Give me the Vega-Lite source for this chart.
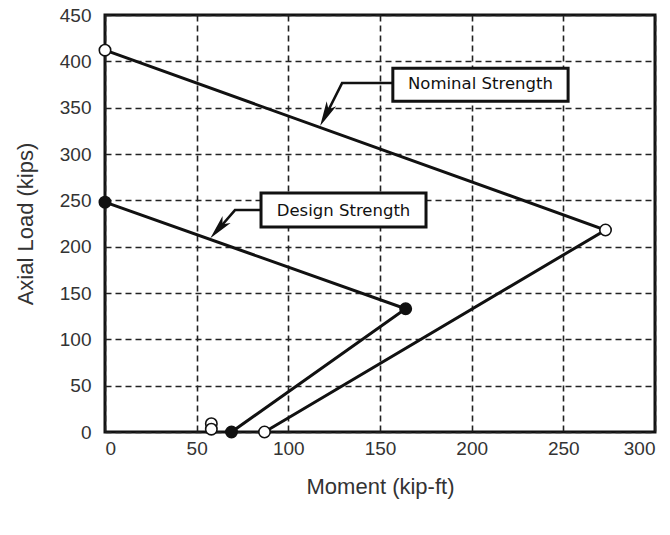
{
  "$schema": "https://vega.github.io/schema/vega-lite/v6.json",
  "width": 550,
  "height": 417,
  "autosize": "none",
  "padding": {"left": 105, "top": 15, "right": 15, "bottom": 103},
  "background": "white",
  "config": {
    "view": {"stroke": "#111", "strokeWidth": 3},
    "axis": {
      "grid": true,
      "gridColor": "#222",
      "gridDash": [6, 4],
      "gridWidth": 1.6,
      "gridOpacity": 1,
      "domain": false,
      "ticks": false,
      "labelFont": "Liberation Sans",
      "labelFontSize": 19,
      "labelColor": "#333",
      "titleFont": "Liberation Sans",
      "titleFontSize": 22,
      "titleFontWeight": "normal",
      "titleColor": "#333"
    }
  },
  "datasets": {
    "curves": [
      {"series": "Nominal", "o": 1, "m": 0, "p": 412},
      {"series": "Nominal", "o": 2, "m": 273, "p": 218},
      {"series": "Nominal", "o": 3, "m": 87, "p": 0},
      {"series": "Design", "o": 1, "m": 0, "p": 248},
      {"series": "Design", "o": 2, "m": 164, "p": 133},
      {"series": "Design", "o": 3, "m": 69, "p": 0}
    ],
    "pts": [
      {"series": "Nominal", "m": 0, "p": 412},
      {"series": "Nominal", "m": 273, "p": 218},
      {"series": "Nominal", "m": 87, "p": 0},
      {"series": "Nominal", "m": 58, "p": 9},
      {"series": "Nominal", "m": 58, "p": 3},
      {"series": "Design", "m": 0, "p": 248},
      {"series": "Design", "m": 164, "p": 133},
      {"series": "Design", "m": 69, "p": 0}
    ],
    "leaders": [
      {"g": "Nominal", "o": 1, "m": 157, "p": 376.5},
      {"g": "Nominal", "o": 2, "m": 129.3, "p": 376.5},
      {"g": "Nominal", "o": 3, "m": 120.5, "p": 342},
      {"g": "Design", "o": 1, "m": 85.1, "p": 239.5},
      {"g": "Design", "o": 2, "m": 70.9, "p": 239.5},
      {"g": "Design", "o": 3, "m": 62, "p": 219}
    ],
    "heads": [
      {"g": "Nominal", "m": 120.5, "p": 342.6, "ang": 207},
      {"g": "Design", "m": 62.0, "p": 219.4, "ang": 221}
    ],
    "labels": [
      {"label": "Nominal Strength", "m1": 157, "m2": 252.6, "p1": 357, "p2": 392.6, "mc": 204.8, "pc": 375.5},
      {"label": "Design Strength", "m1": 85.1, "m2": 175.1, "p1": 221.1, "p2": 257.8, "mc": 130.1, "pc": 239}
    ]
  },
  "encoding": {
    "x": {
      "field": "m",
      "type": "quantitative",
      "scale": {"domain": [0, 300], "nice": false},
      "axis": {"values": [0, 50, 100, 150, 200, 250, 300], "title": "Moment (kip-ft)", "labelPadding": 7, "titlePadding": 18}
    },
    "y": {
      "field": "p",
      "type": "quantitative",
      "scale": {"domain": [0, 450], "nice": false},
      "axis": {"values": [0, 50, 100, 150, 200, 250, 300, 350, 400, 450], "title": "Axial Load (kips)", "labelPadding": 14, "titlePadding": 22}
    }
  },
  "layer": [
    {
      "data": {"name": "curves"},
      "mark": {"type": "line", "color": "#111", "strokeWidth": 3, "clip": false},
      "encoding": {"detail": {"field": "series"}, "order": {"field": "o"}}
    },
    {
      "data": {"name": "leaders"},
      "mark": {"type": "line", "color": "#111", "strokeWidth": 2.5, "clip": false},
      "encoding": {"detail": {"field": "g"}, "order": {"field": "o"}}
    },
    {
      "data": {"name": "heads"},
      "mark": {"type": "point", "shape": "M0,-1L0.42,0.95L0,0.45L-0.42,0.95Z", "filled": true, "color": "#111", "size": 650, "opacity": 1, "clip": false},
      "encoding": {"angle": {"field": "ang", "type": "quantitative", "scale": null}}
    },
    {
      "data": {"name": "pts"},
      "mark": {"type": "point", "shape": "circle", "size": 130, "strokeWidth": 1.6, "stroke": "#111", "opacity": 1, "filled": true, "clip": false},
      "encoding": {
        "fill": {
          "field": "series",
          "type": "nominal",
          "scale": {"domain": ["Nominal", "Design"], "range": ["white", "#111"]},
          "legend": null
        }
      }
    },
    {
      "data": {"name": "labels"},
      "mark": {"type": "rect", "fill": "white", "stroke": "#111", "strokeWidth": 3},
      "encoding": {
        "x": {"field": "m1", "type": "quantitative"},
        "x2": {"field": "m2"},
        "y": {"field": "p1", "type": "quantitative"},
        "y2": {"field": "p2"}
      }
    },
    {
      "data": {"name": "labels"},
      "mark": {"type": "text", "font": "DejaVu Sans", "fontSize": 16.5, "color": "#111", "align": "center", "baseline": "middle"},
      "encoding": {
        "x": {"field": "mc", "type": "quantitative"},
        "y": {"field": "pc", "type": "quantitative"},
        "text": {"field": "label"}
      }
    }
  ]
}
